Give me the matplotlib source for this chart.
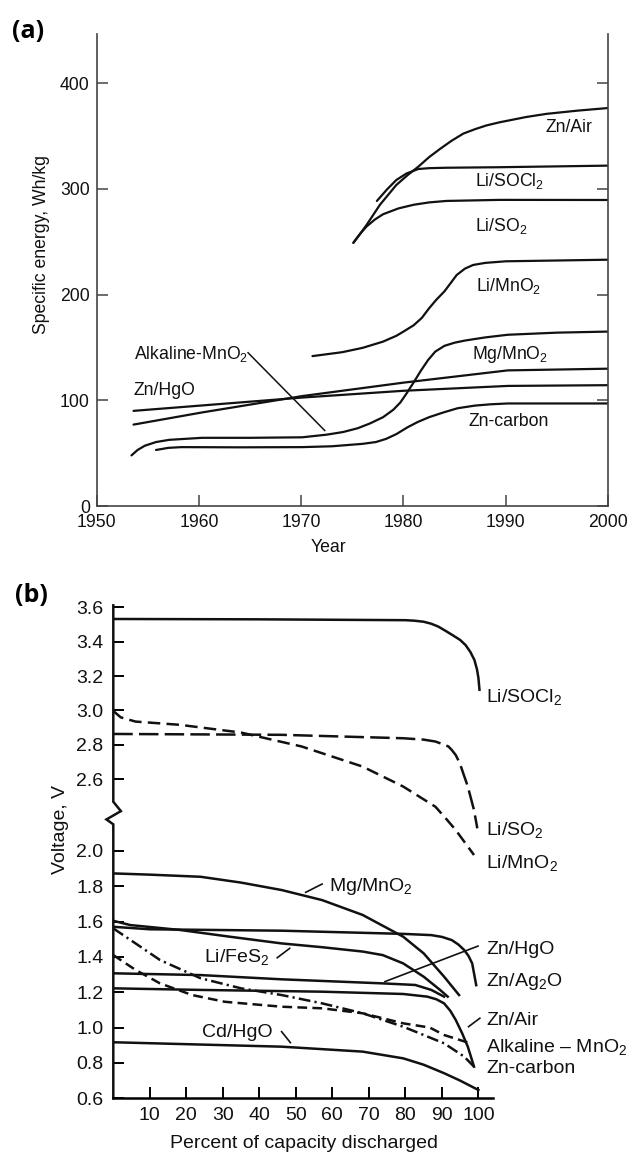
import numpy as np
import matplotlib
matplotlib.use('Agg')
import matplotlib.pyplot as plt

plt.rcParams['font.family'] = ['Liberation Sans', 'DejaVu Sans']
plt.rcParams['mathtext.fontset'] = 'custom'
plt.rcParams['mathtext.rm'] = 'Liberation Sans'
plt.rcParams['mathtext.it'] = 'Liberation Sans'
plt.rcParams['mathtext.bf'] = 'Liberation Sans:bold'
plt.rcParams['lines.scale_dashes'] = False

INK = '#111111'

# ---- (a) specific energy vs year ----
zn_air_yr = [1975.1, 1975.8, 1976.4, 1977.7, 1979.3, 1980.4, 1981.45, 1982.5, 1983.6, 1984.7,
             1985.85, 1987, 1988.1, 1989.4, 1992, 1994, 1997, 2000]
zn_air_wh = [249, 258, 266, 285, 303.7, 313, 321, 330, 338, 345.5, 352.3, 356.5, 360, 363,
             368, 371, 374, 376.5]
li_socl2_yr = [1977.4, 1978.4, 1979.3, 1980.3, 1981.45, 1982.5, 1984.2, 1989.4, 2000]
li_socl2_wh = [288.6, 299.6, 308.4, 314.6, 318.8, 319.6, 320, 320.5, 322]
li_so2_yr = [1975.1, 1975.8, 1976.4, 1977.2, 1978, 1979.5, 1981, 1982.5, 1984.2, 1989.4, 2000]
li_so2_wh = [249, 258, 264.5, 271, 276, 281.5, 285, 287.2, 288.6, 289.6, 289.5]
li_mno2_yr = [1971.1, 1974, 1976, 1978, 1979.3, 1980, 1981, 1981.8, 1982.5, 1983.2, 1984,
              1984.7, 1985.2, 1986, 1986.8, 1988, 1990, 2000]
li_mno2_wh = [141.8, 145.5, 149.6, 155.5, 161, 165, 171, 178, 187, 195, 203, 212, 218.5,
              224.5, 228, 230, 231.5, 233]
alk_yr = [1953.4, 1954, 1954.7, 1955.8, 1957.1, 1960.3, 1965, 1970.1, 1972.5, 1974.1, 1975.5,
          1976.7, 1978, 1979, 1979.7, 1980.3, 1981, 1981.7, 1982.4, 1983.1, 1984, 1985, 1986,
          1988, 1990.2, 1995, 2000]
alk_wh = [47.9, 53, 57, 60.5, 62.6, 64.5, 64.5, 65, 67.5, 70, 73.5, 78, 84, 91, 98, 106.5, 117,
          128, 138, 146, 151.5, 154.5, 156.5, 159.5, 162, 164, 165]
mg_yr = [1953.6, 1960.3, 1970.1, 1980, 1990.2, 2000]
mg_wh = [77, 88.5, 104, 116.7, 128.3, 129.9]
zn_hgo_yr = [1953.6, 1970.1, 1980, 1990.2, 2000]
zn_hgo_wh = [90, 102.6, 109, 113.6, 114.3]
zn_c_yr = [1955.8, 1957, 1958.3, 1964, 1970.1, 1973, 1976, 1977.3, 1978.3, 1979.3, 1980.4,
           1981.4, 1982.5, 1983.9, 1985.3, 1987, 1988.5, 1990.2, 2000]
zn_c_wh = [53, 55, 55.7, 55.5, 55.7, 56.5, 58.8, 60.5, 63.5, 68, 74.5, 79.5, 84, 88.5, 92.5,
           95, 96.2, 97, 97]

# label text, x, y, alignment
labels_a = [
    ('Zn/Air', 1996.2, 358, 'center'),
    ('Li/SOCl$_2$', 1990.4, 307, 'center'),
    ('Li/SO$_2$', 1989.6, 265, 'center'),
    ('Li/MnO$_2$', 1990.3, 208, 'center'),
    ('Mg/MnO$_2$', 1990.4, 143, 'center'),
    ('Zn-carbon', 1990.3, 80, 'center'),
    ('Alkaline-MnO$_2$', 1953.6, 144, 'left'),
    ('Zn/HgO', 1953.6, 109, 'left'),
]
alk_leader_yr = [1964.8, 1972.3]
alk_leader_wh = [145, 71.4]

# ---- (b) discharge curves ----
li_socl2_pct = [0, 40, 80, 82.5, 85, 87, 89, 91, 93, 95, 96.5, 97.8, 98.9, 99.6, 100, 100.3]
li_socl2_v = [3.532, 3.530, 3.525, 3.522, 3.516, 3.505, 3.488, 3.463, 3.437, 3.41, 3.38, 3.34,
              3.294, 3.24, 3.19, 3.12]
li_so2_pct = [0, 46, 79.4, 85, 88.2, 90.7, 91.8, 92.7, 93.8, 94.9, 97.1, 98.8, 99.7]
li_so2_v = [2.863, 2.858, 2.838, 2.83, 2.819, 2.80, 2.79, 2.77, 2.74, 2.693, 2.557, 2.42, 2.127]
li_mno2_pct = [0, 2, 6.1, 18.3, 35, 51.6, 68.3, 79.4, 88.2, 91, 93.8, 98.8]
li_mno2_v = [2.997, 2.96, 2.935, 2.916, 2.871, 2.79, 2.673, 2.557, 2.44, 2.185, 2.117, 1.976]
mg_mno2_pct = [0, 10, 23.9, 35, 46.1, 57.2, 68.3, 79.4, 85, 90.6, 94.7]
mg_mno2_v = [1.872, 1.865, 1.853, 1.82, 1.778, 1.721, 1.637, 1.514, 1.42, 1.288, 1.184]
zn_ag2o_pct = [0, 10, 46.1, 79.4, 87.1, 90, 92.7, 94.5, 96.1, 97.3, 98.3, 99.4]
zn_ag2o_v = [1.57, 1.556, 1.548, 1.53, 1.523, 1.513, 1.495, 1.47, 1.439, 1.405, 1.363, 1.24]
li_fes2_pct = [0, 4.6, 18.3, 31.9, 46.1, 57, 68.3, 73.8, 79.4, 85, 89.5, 91.6]
li_fes2_v = [1.604, 1.58, 1.552, 1.514, 1.476, 1.455, 1.43, 1.41, 1.363, 1.288, 1.213, 1.175]
zn_hgo_pct = [0, 23.9, 46.1, 73.8, 82.7, 87.1, 90.6]
zn_hgo_v = [1.307, 1.297, 1.273, 1.25, 1.241, 1.213, 1.175]
zn_air_pct = [0, 23.9, 57.2, 79.4, 86, 88.5, 90.6, 92.3, 93.8, 95.5, 97.1, 98.8]
zn_air_v = [1.222, 1.213, 1.203, 1.19, 1.175, 1.16, 1.137, 1.095, 1.043, 0.97, 0.892, 0.779]
alk_pct = [0, 6.1, 12.8, 21.6, 30.5, 46.1, 57.2, 68.3, 79.4, 86.7, 90.6, 97.8]
alk_v = [1.41, 1.326, 1.25, 1.184, 1.146, 1.118, 1.109, 1.081, 1.024, 1.0, 0.958, 0.911]
zn_c_pct = [0, 6.1, 12.8, 23.9, 35, 46.1, 57.2, 68.3, 79.4, 90.6, 96.1, 98.8]
zn_c_v = [1.561, 1.476, 1.382, 1.279, 1.222, 1.184, 1.137, 1.081, 1.005, 0.911, 0.836, 0.779]
cd_hgo_pct = [0, 46.1, 68.3, 79.4, 85, 90.6, 95, 100]
cd_hgo_v = [0.917, 0.892, 0.864, 0.826, 0.79, 0.742, 0.70, 0.647]

labels_b_right = [
    ('Li/SOCl$_2$', 3.077), ('Li/SO$_2$', 2.12), ('Li/MnO$_2$', 1.929),
    ('Zn/HgO', 1.443), ('Zn/Ag$_2$O', 1.26), ('Zn/Air', 1.039),
    ('Alkaline \u2013 MnO$_2$', 0.892), ('Zn-carbon', 0.77),
]
labels_b_inner = [('Mg/MnO$_2$', 70.5, 1.80), ('Li/FeS$_2$', 33.9, 1.40), ('Cd/HgO', 33.9, 0.971)]
leaders_b = [
    ([52.7, 57.2], [1.765, 1.812]),
    ([44.9, 48.3], [1.395, 1.448]),
    ([74.4, 99.9], [1.26, 1.461]),
    ([97.3, 100.4], [1.005, 1.053]),
    ([46.1, 48.5], [0.977, 0.915]),
]
volt_ticks = [0.6, 0.8, 1.0, 1.2, 1.4, 1.6, 1.8, 2.0, 2.6, 2.8, 3.0, 3.2, 3.4, 3.6]

# broken voltage axis: 2.23..2.42 V squeezed out
LOW_TOP, HIGH_BOT, SQ, K = 2.23, 2.42, 0.001, 0.972


def fwd(v):
    v = np.asarray(v, dtype=float)
    mid = LOW_TOP + (v - LOW_TOP) * SQ
    top = LOW_TOP + (HIGH_BOT - LOW_TOP) * SQ + (v - HIGH_BOT) * K
    return np.where(v <= LOW_TOP, v, np.where(v >= HIGH_BOT, top, mid))


def inv(y):
    y = np.asarray(y, dtype=float)
    y_hb = LOW_TOP + (HIGH_BOT - LOW_TOP) * SQ
    mid = LOW_TOP + (y - LOW_TOP) / SQ
    top = HIGH_BOT + (y - y_hb) / K
    return np.where(y <= LOW_TOP, y, np.where(y >= y_hb, top, mid))


W, H = 632, 1154
fig = plt.figure(figsize=(W / 100, H / 100), dpi=100)


def box(l, t, r, b):
    return [l / W, 1 - b / H, (r - l) / W, (b - t) / H]


# ---------- panel (a) ----------
ax = fig.add_axes(box(96.7, 33.5, 608, 506))
lw = 1.6
for x, y in [(zn_air_yr, zn_air_wh), (li_socl2_yr, li_socl2_wh), (li_so2_yr, li_so2_wh),
             (li_mno2_yr, li_mno2_wh), (alk_yr, alk_wh), (mg_yr, mg_wh),
             (zn_hgo_yr, zn_hgo_wh), (zn_c_yr, zn_c_wh)]:
    ax.plot(x, y, color=INK, lw=lw, solid_capstyle='round', solid_joinstyle='round')
ax.plot(alk_leader_yr, alk_leader_wh, color=INK, lw=1.1)
for txt, x, y, ha in labels_a:
    ax.text(x, y, txt, ha=ha, va='center', fontsize=12.7, color=INK)
ax.set_xlim(1950, 2000)
ax.set_ylim(0, 447)
ax.set_xticks(range(1950, 2001, 10))
ax.set_yticks([0, 100, 200, 300, 400])
ax.spines['top'].set_visible(False)
for s in ['left', 'right', 'bottom']:
    ax.spines[s].set_linewidth(1.2)
    ax.spines[s].set_color('#444444')
ax.tick_params(direction='in', length=8, width=1.1, color='#444444',
               labelsize=12.7, labelcolor=INK)
ax.tick_params(axis='y', right=True, labelright=False, pad=5)
ax.tick_params(axis='x', pad=6)
fig.text(42 / W, 1 - 244 / H, 'Specific energy, Wh/kg', rotation=90,
         ha='center', va='center', fontsize=12.7, color=INK)
fig.text(328 / W, 1 - 548 / H, 'Year', ha='center', va='center', fontsize=12.7, color=INK)
fig.text(12 / W, 1 - 32 / H, '(a)', ha='left', va='center', fontsize=18,
         fontweight='bold', family=['Open Sans', 'DejaVu Sans'])

# ---------- panel (b) ----------
bx = fig.add_axes(box(113.3, 607.3, 493, 1098.3))
bx.set_yscale('function', functions=(fwd, inv))
lw = 1.8
bx.plot(li_socl2_pct, li_socl2_v, color=INK, lw=lw)
bx.plot(li_so2_pct, li_so2_v, color=INK, lw=lw, dashes=(14, 4.5))
bx.plot(li_mno2_pct, li_mno2_v, color=INK, lw=lw, dashes=(9, 4.5))
bx.plot(mg_mno2_pct, mg_mno2_v, color=INK, lw=lw)
bx.plot(zn_ag2o_pct, zn_ag2o_v, color=INK, lw=lw)
bx.plot(li_fes2_pct, li_fes2_v, color=INK, lw=lw)
bx.plot(zn_hgo_pct, zn_hgo_v, color=INK, lw=lw)
bx.plot(zn_air_pct, zn_air_v, color=INK, lw=lw)
bx.plot(alk_pct, alk_v, color=INK, lw=lw, dashes=(7, 3.8))
bx.plot(zn_c_pct, zn_c_v, color=INK, lw=lw, dashes=(8.5, 3, 1.6, 3))
bx.plot(cd_hgo_pct, cd_hgo_v, color=INK, lw=lw)
for xs, ys in leaders_b:
    bx.plot(xs, ys, color=INK, lw=1.2, clip_on=False)
for txt, y in labels_b_right:
    bx.text(102.1, y, txt, ha='left', va='center', fontsize=14, color=INK)
for txt, x, y in labels_b_inner:
    bx.text(x, y, txt, ha='center', va='center', fontsize=14, color=INK)
bx.set_xlim(0, 104)
bx.set_ylim(0.6, 3.6)
bx.set_xticks(range(10, 101, 10))
bx.set_yticks(volt_ticks)
bx.set_yticklabels(['%.1f' % t for t in volt_ticks])
for s in ['top', 'right', 'left']:
    bx.spines[s].set_visible(False)
bx.spines['bottom'].set_linewidth(1.8)
bx.tick_params(direction='in', length=8, width=1.4, labelsize=14, labelcolor=INK)
bx.tick_params(axis='y', pad=7)
bx.tick_params(axis='x', pad=6)

# left spine drawn by hand with a zigzag at the break
yb = float((fwd(LOW_TOP) - fwd(0.6)) / (fwd(3.6) - fwd(0.6)))
zx = [0, 0, 0.020, -0.018, 0, 0]
zy = [1.004, yb + 0.017, yb - 0.002, yb - 0.019, yb - 0.029, 0]
bx.plot(zx, zy, transform=bx.transAxes, color=INK, lw=1.8, clip_on=False,
        solid_joinstyle='miter')

fig.text(60.5 / W, 1 - 830 / H, 'Voltage, V', rotation=90, ha='center', va='center',
         fontsize=14, color=INK)
fig.text(304 / W, 1 - 1143 / H, 'Percent of capacity discharged', ha='center',
         va='center', fontsize=14, color=INK)
fig.text(15 / W, 1 - 596 / H, '(b)', ha='left', va='center', fontsize=18,
         fontweight='bold', family=['Open Sans', 'DejaVu Sans'])

fig.savefig('out.png', dpi=100)
